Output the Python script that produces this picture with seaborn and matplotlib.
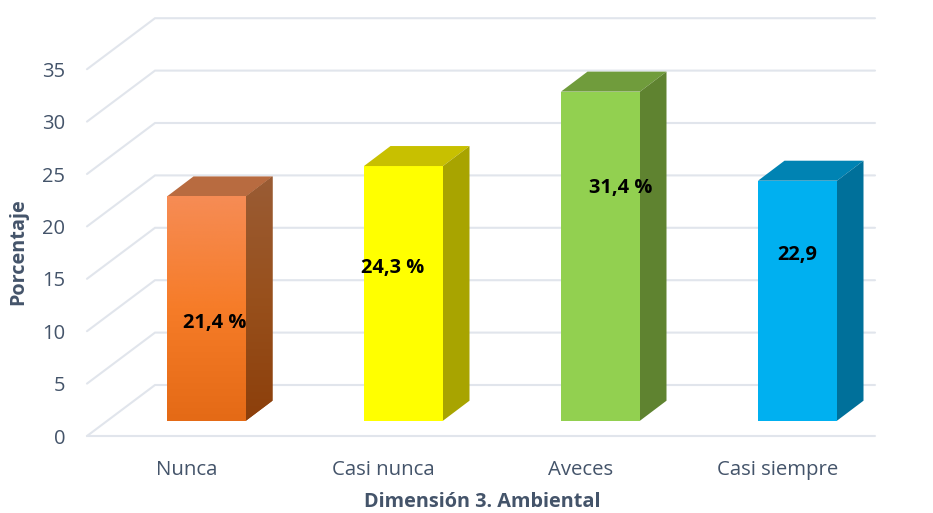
#!/usr/bin/env python3
import numpy as np
import pandas as pd
import matplotlib
matplotlib.use('Agg')
import matplotlib.pyplot as plt
import seaborn as sns
from matplotlib.colors import LinearSegmentedColormap
from matplotlib.patches import Polygon

categorias = ['Nunca', 'Casi nunca', 'Aveces', 'Casi siempre']
porcentajes = [21.4, 24.3, 31.4, 22.9]
etiquetas = ['21,4 %', '24,3 %', '31,4 %', '22,9']
marcas_y = [0, 5, 10, 15, 20, 25, 30, 35]

colores_frente = ['#f47a20', '#ffff00', '#92d050', '#00b0f0']
colores_arriba = ['#b86b40', '#c8c000', '#709c3c', '#0083b3']
colores_lado = ['#96501f', '#a8a400', '#5f8330', '#00709a']

sns.set_theme(style='white')
plt.rcParams['font.family'] = ['Open Sans', 'DejaVu Sans']

W, H = 933, 513
fig = plt.figure(figsize=(W / 100, H / 100), dpi=100)
# ejes en pixeles de la imagen: de 87 a 875 y de 10 a 436
ax = fig.add_axes([87 / W, (H - 436) / H, (875 - 87) / W, (436 - 10) / H])

df = pd.DataFrame({'cat': categorias, 'val': porcentajes})
sns.barplot(data=df, x='cat', y='val', hue='cat', palette=colores_frente, saturation=1,
            width=79 / 197, legend=False, ax=ax, zorder=3, linewidth=0)

px_x = 197.0   # pixeles por categoria
px_y = 10.48   # pixeles por unidad
x_izq = (87 - 206.5) / px_x
x_der = (875 - 206.5) / px_x
piso = -(436 - 420.7) / px_y
fondo_dx = 68 / px_x
fondo_dy = 51 / px_y
bar_dx = 26.5 / px_x
bar_dy = 20 / px_y

# paredes y piso
color_grid = '#e1e5ec'
for v in marcas_y:
    y0 = v + piso
    ax.plot([x_izq, x_izq + fondo_dx, x_der], [y0, y0 + fondo_dy, y0 + fondo_dy],
            color=color_grid, lw=1.5, zorder=1, clip_on=False, solid_joinstyle='miter')
ax.plot([x_izq, x_der], [piso, piso], color=color_grid, lw=1.5, zorder=1, clip_on=False)

# caras 3D de cada barra
for i, p in enumerate(ax.patches):
    x0, x1 = p.get_x(), p.get_x() + p.get_width()
    v = p.get_height()
    arriba = Polygon([(x0, v), (x1, v), (x1 + bar_dx, v + bar_dy), (x0 + bar_dx, v + bar_dy)],
                     fc=colores_arriba[i], ec='none', zorder=3)
    lado = Polygon([(x1, 0), (x1 + bar_dx, bar_dy), (x1 + bar_dx, v + bar_dy), (x1, v)],
                   fc=colores_lado[i], ec='none', zorder=3)
    ax.add_patch(arriba)
    ax.add_patch(lado)
    if i == 0:
        # la barra naranja lleva degradado
        grad = np.linspace(0, 1, 256).reshape(-1, 1)
        cmap_f = LinearSegmentedColormap.from_list('f', ['#f68c55', '#f67c28', '#e46a16'])
        ax.imshow(grad, extent=(x0, x1, 0, v), origin='upper', aspect='auto', cmap=cmap_f, zorder=3.2)
        cmap_l = LinearSegmentedColormap.from_list('l', ['#9a5c35', '#98501c', '#8c3f0b'])
        img = ax.imshow(grad, extent=(x1, x1 + bar_dx, 0, v + bar_dy), origin='upper',
                        aspect='auto', cmap=cmap_l, zorder=3.2)
        img.set_clip_path(lado)

# posicion de los rotulos sobre cada barra
rot_x = [0.043, -0.056, 0.10, 0.0]
rot_y = [9.35, 14.6, 22.25, 15.85]
for i, t in enumerate(etiquetas):
    ax.text(i + rot_x[i], rot_y[i], t, ha='center', va='center', fontsize=14.4,
            fontweight='bold', color='black', zorder=5)

ax.set_xlim(x_izq, x_der)
ax.set_ylim(piso, (420.7 - 10) / px_y)
# los rotulos del eje x van corridos a la izquierda, sobre el piso
ax.set_xticks([i - 20 / px_x for i in range(len(categorias))], categorias)
ax.set_yticks([v + piso for v in marcas_y], [str(v) for v in marcas_y])
ax.tick_params(axis='y', length=0, pad=15.5, labelsize=14.5, labelcolor='#44546a')
ax.tick_params(axis='x', length=0, pad=17, labelsize=14.7, labelcolor='#44546a')
for s in ax.spines.values():
    s.set_visible(False)
ax.patch.set_alpha(0)

ax.set_xlabel('')
ax.set_ylabel('')
fig.text(18 / W, 1 - 252 / H, 'Porcentaje', rotation=90, ha='center', va='center',
         fontsize=14.3, fontweight='bold', color='#44546a')
fig.text(482 / W, 1 - 502 / H, 'Dimensión 3. Ambiental', ha='center', va='center',
         fontsize=14.3, fontweight='bold', color='#44546a')

fig.savefig('out.png', dpi=100)
